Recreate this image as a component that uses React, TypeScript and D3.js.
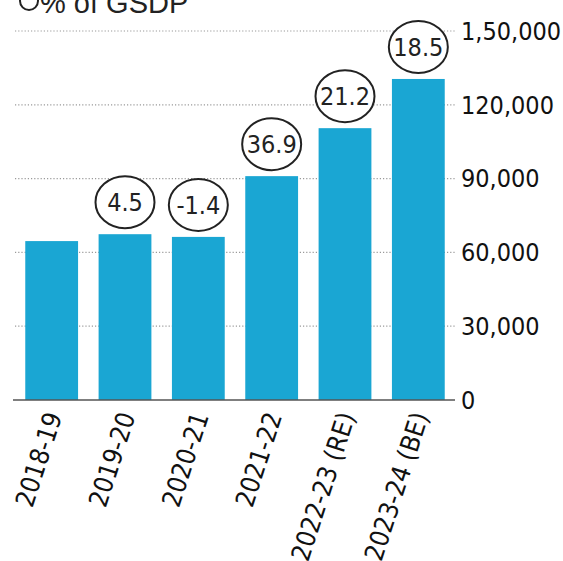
import React from "react";
import * as d3 from "d3";

const categories = ["2018-19", "2019-20", "2020-21", "2021-22", "2022-23 (RE)", "2023-24 (BE)"];
const values = [64600, 67400, 66300, 91000, 110500, 130500];
const growth = [null, "4.5", "-1.4", "36.9", "21.2", "18.5"];
const tickValues = [0, 30000, 60000, 90000, 120000, 150000];
const tickLabels = ["0", "30,000", "60,000", "90,000", "120,000", "1,50,000"];

const W = 563;
const H = 561;
const FONT = "'DejaVu Sans Condensed', 'Liberation Sans Narrow', 'Roboto', sans-serif";
const BAR = "#1aa6d3";

export default function App() {
  const x = d3.scaleBand<string>().domain(categories).range([15, 455]).paddingInner(0.28).paddingOuter(0.14);
  const y = d3.scaleLinear().domain([0, 150000]).range([400, 31]);

  return (
    <svg width={W} height={H} style={{ position: "absolute", left: 0, top: 0, background: "#fff" }}>
      {/* title */}
      <circle cx={29} cy={1} r={9} fill="none" stroke="#222" strokeWidth={2} />
      <text x={40} y={13} fontFamily="'Liberation Sans', Arial, sans-serif" fontSize={29} fill="#222">% of GSDP</text>

      {/* gridlines */}
      {tickValues.slice(1).map((t) => (
        <line key={t} x1={15} x2={455} y1={y(t)} y2={y(t)} stroke="#9a9a9a" strokeWidth={1.2} strokeDasharray="1.2,2" />
      ))}

      {/* bars */}
      {categories.map((c, i) => (
        <rect key={c} x={x(c)} y={y(values[i])} width={x.bandwidth()} height={y(0) - y(values[i])} fill={BAR} />
      ))}

      {/* baseline */}
      <line x1={13} x2={455} y1={y(0)} y2={y(0)} stroke="#555" strokeWidth={1.5} />

      {/* y labels */}
      {tickValues.map((t, i) => (
        <text key={t} x={461} y={y(t)} dy="0.35em" fontFamily={FONT} fontSize={25} fill="#111">{tickLabels[i]}</text>
      ))}

      {/* growth circles */}
      {categories.map((c, i) =>
        growth[i] ? (
          <g key={c} transform={`translate(${(x(c) as number) + x.bandwidth() / 2},${y(values[i]) - 32})`}>
            <ellipse rx={29.5} ry={26} fill="#fff" stroke="#222" strokeWidth={2} />
            <text textAnchor="middle" dy="0.36em" fontFamily={FONT} fontSize={25} fill="#222">{growth[i]}</text>
          </g>
        ) : null
      )}

      {/* x labels */}
      {categories.map((c) => (
        <text
          key={c}
          transform={`translate(${(x(c) as number) + x.bandwidth() / 2 + 2},${413}) rotate(-72)`}
          textAnchor="end"
          dy="0.35em"
          fontFamily={FONT}
          fontSize={26}
          fill="#111"
        >
          {c}
        </text>
      ))}
    </svg>
  );
}
